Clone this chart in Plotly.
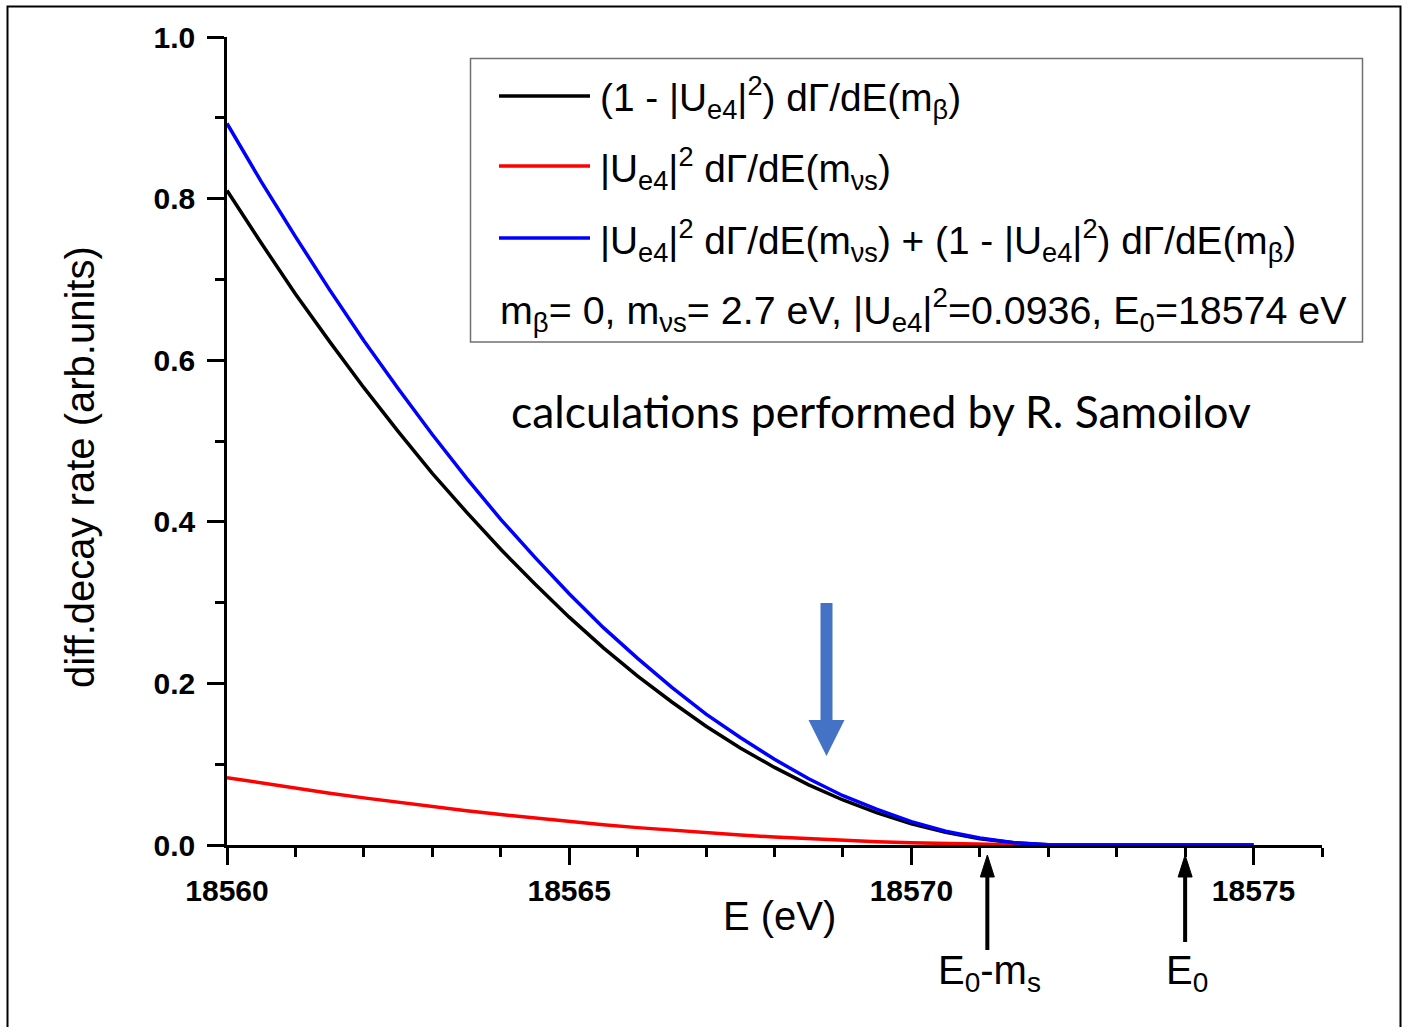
import plotly.graph_objects as go

# ---- data ----
energy = [18560.0, 18560.5, 18561.0, 18561.5, 18562.0, 18562.5, 18563.0, 18563.5,
          18564.0, 18564.5, 18565.0, 18565.5, 18566.0, 18566.5, 18567.0, 18567.5,
          18568.0, 18568.5, 18569.0, 18569.5, 18570.0, 18570.5, 18571.0, 18571.5,
          18572.0, 18572.5, 18573.0, 18573.5, 18574.0, 18574.5, 18575.0]
active = [0.810, 0.745, 0.682, 0.623, 0.566, 0.512, 0.460, 0.412,
          0.366, 0.323, 0.282, 0.244, 0.209, 0.177, 0.147, 0.120,
          0.096, 0.0745, 0.0557, 0.0397, 0.0263, 0.0157, 0.0078, 0.0027,
          0.0002, 0.0, 0.0, 0.0, 0.0, 0.0, 0.0]
sterile = [0.0834, 0.0767, 0.0702, 0.0641, 0.0583, 0.0527, 0.0474, 0.0424,
           0.0377, 0.0332, 0.0290, 0.0251, 0.0215, 0.0182, 0.0151, 0.0124,
           0.0099, 0.0077, 0.0057, 0.0041, 0.0027, 0.0016, 0.0008, 0.0003,
           0.0, 0.0, 0.0, 0.0, 0.0, 0.0, 0.0]
total = [0.893, 0.821, 0.753, 0.687, 0.624, 0.565, 0.508, 0.454,
         0.403, 0.356, 0.311, 0.269, 0.231, 0.195, 0.162, 0.133,
         0.106, 0.082, 0.061, 0.044, 0.029, 0.017, 0.0086, 0.0029,
         0.0002, 0.0, 0.0, 0.0, 0.0, 0.0, 0.0]

series_names = [
    "(1 - |U<sub>e4</sub>|<sup>2</sup>) dΓ/dE(m<sub>β</sub>)",
    "|U<sub>e4</sub>|<sup>2</sup> dΓ/dE(m<sub>νs</sub>)",
    "|U<sub>e4</sub>|<sup>2</sup> dΓ/dE(m<sub>νs</sub>) + (1 - |U<sub>e4</sub>|<sup>2</sup>) dΓ/dE(m<sub>β</sub>)",
]
series_colors = ["#000000", "#ff0000", "#0000ff"]
param_text = ("m<sub>β</sub>= 0, m<sub>νs</sub>= 2.7 eV, |U<sub>e4</sub>|<sup>2</sup>=0.0936, "
              "E<sub>0</sub>=18574 eV")
x_range = [18560, 18576]
y_range = [0, 1]
E0 = 18574.0
E0_minus_ms = 18571.11

# ---- geometry ----
W, H = 1407, 1027
L, R, T, B = 227, 85, 37, 182
PW, PH = W - L - R, H - T - B


def pxp(x):
    return (x - L) / PW


def pyp(y):
    return (H - B - y) / PH


def ex(e):
    return L + (e - x_range[0]) / (x_range[1] - x_range[0]) * PW


FONT = "Liberation Sans, Arial, sans-serif"

fig = go.Figure()
for vals, name, col in zip([active, sterile, total], series_names, series_colors):
    fig.add_trace(go.Scatter(x=energy, y=vals, mode="lines", name=name,
                             line=dict(color=col, width=3.5), showlegend=False))

shapes = []
annotations = []

# outer frame
shapes.append(dict(type="rect", xref="paper", yref="paper",
                   x0=pxp(7.5), x1=pxp(1400.5), y0=pyp(1040), y1=pyp(6.5),
                   line=dict(color="#000000", width=2), layer="below"))

# legend box
shapes.append(dict(type="rect", xref="paper", yref="paper",
                   x0=pxp(470.5), x1=pxp(1362.5), y0=pyp(342), y1=pyp(58.5),
                   line=dict(color="#707070", width=1.5), fillcolor="white"))
legend_y = [96, 166, 238]
for yy, name, col in zip(legend_y, series_names, series_colors):
    shapes.append(dict(type="line", xref="paper", yref="paper",
                       x0=pxp(499), x1=pxp(590), y0=pyp(yy), y1=pyp(yy),
                       line=dict(color=col, width=3.5)))
    annotations.append(dict(xref="paper", yref="paper", x=pxp(598), y=pyp(yy + 2),
                            xanchor="left", yanchor="middle", text=name, showarrow=False,
                            font=dict(family=FONT, size=38.8, color="#000000")))
annotations.append(dict(xref="paper", yref="paper", x=pxp(498), y=pyp(310),
                        xanchor="left", yanchor="middle", text=param_text, showarrow=False,
                        font=dict(family=FONT, size=39.4, color="#000000")))

# credit text
annotations.append(dict(xref="paper", yref="paper", x=pxp(881), y=pyp(410),
                        xanchor="center", yanchor="middle",
                        text="calculations performed by R. Samoilov", showarrow=False,
                        font=dict(family="Lato, Open Sans, sans-serif", size=44.4, color="#000000")))

# blue marker arrow (pixel polygon)
bx = 826.5
pts = [(bx - 6, 603), (bx + 6, 603), (bx + 6, 720), (bx + 18, 720), (bx, 756),
       (bx - 18, 720), (bx - 6, 720)]
path = "M " + " L ".join(f"{pxp(a):.5f},{pyp(b):.5f}" for a, b in pts) + " Z"
shapes.append(dict(type="path", xref="paper", yref="paper", path=path,
                   fillcolor="#4472c4", line=dict(width=0)))

# black arrows for E0 and E0-ms
for e, tail, label in [(E0_minus_ms, 950, "E<sub>0</sub>-m<sub>s</sub>"), (E0, 942, "E<sub>0</sub>")]:
    ax = ex(e)
    shapes.append(dict(type="line", xref="paper", yref="paper",
                       x0=pxp(ax), x1=pxp(ax), y0=pyp(tail), y1=pyp(870),
                       line=dict(color="#000000", width=4)))
    tri = [(ax - 7, 877), (ax, 855), (ax + 7, 877)]
    p = "M " + " L ".join(f"{pxp(a):.5f},{pyp(b):.5f}" for a, b in tri) + " Z"
    shapes.append(dict(type="path", xref="paper", yref="paper", path=p,
                       fillcolor="#000000", line=dict(color="#000000", width=1)))
    annotations.append(dict(xref="paper", yref="paper", x=pxp(ax + 2), y=pyp(946),
                            xanchor="center", yanchor="top", text=label, showarrow=False,
                            font=dict(family=FONT, size=40, color="#000000")))

# axis titles
annotations.append(dict(xref="paper", yref="paper", x=pxp(779), y=pyp(916),
                        xanchor="center", yanchor="middle", text="E (eV)", showarrow=False,
                        font=dict(family=FONT, size=40, color="#000000")))
annotations.append(dict(xref="paper", yref="paper", x=pxp(80), y=pyp(467),
                        xanchor="center", yanchor="middle", text="diff.decay rate (arb.units)",
                        textangle=-90, showarrow=False,
                        font=dict(family=FONT, size=40, color="#000000")))

axis_common = dict(showline=True, linecolor="#000000", linewidth=2.5, showgrid=False,
                   zeroline=False, ticks="outside", tickcolor="#000000", tickwidth=2.5,
                   ticklen=17, layer="below traces")

fig.update_layout(
    width=W, height=H,
    margin=dict(l=L, r=R, t=T, b=B, pad=0),
    paper_bgcolor="white", plot_bgcolor="white",
    showlegend=False,
    shapes=shapes, annotations=annotations,
    xaxis=dict(range=x_range, tick0=18560, dtick=5, tickformat="d", **axis_common,
               minor=dict(dtick=1, ticks="outside", ticklen=9, tickwidth=2.5, tickcolor="#000000"),
               tickfont=dict(family=FONT, size=30, color="#000000", weight="bold")),
    yaxis=dict(range=y_range, tick0=0, dtick=0.2, tickformat=".1f", ticklabelstandoff=6,
               **axis_common,
               minor=dict(dtick=0.1, ticks="outside", ticklen=9, tickwidth=2.5, tickcolor="#000000"),
               tickfont=dict(family=FONT, size=30, color="#000000", weight="bold")),
)

fig.write_html("out.html")
